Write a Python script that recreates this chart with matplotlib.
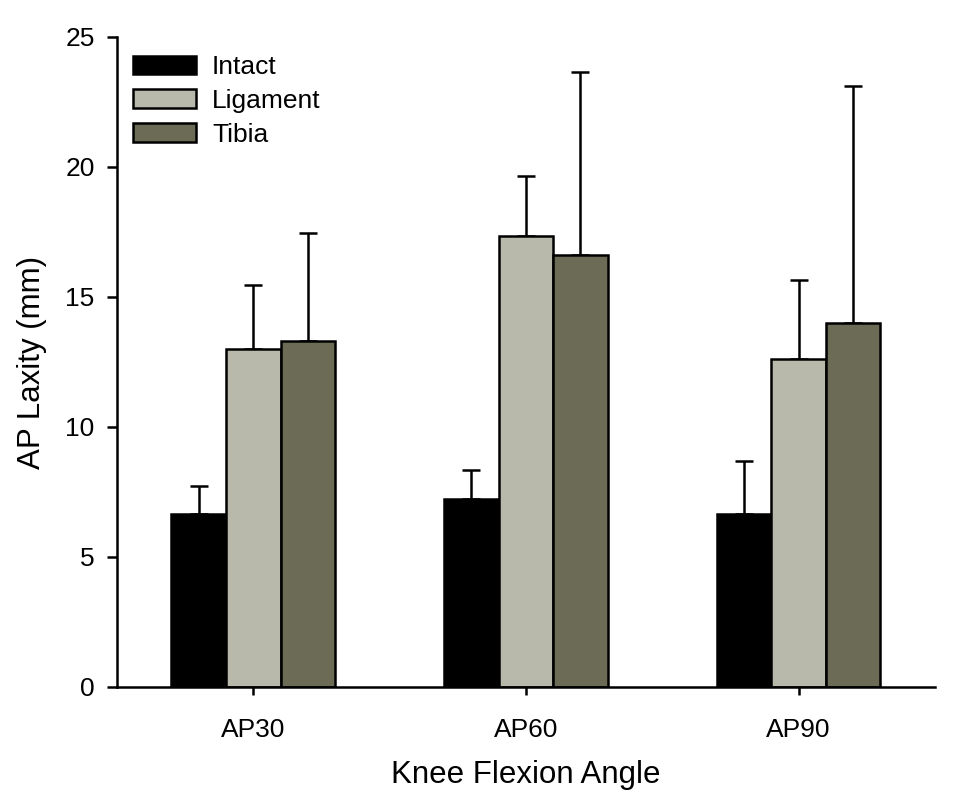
import numpy as np
import matplotlib
matplotlib.use("Agg")
import matplotlib.pyplot as plt

plt.rcParams['font.family'] = ['Liberation Sans', 'DejaVu Sans']

angles = ['AP30', 'AP60', 'AP90']
series = ['Intact', 'Ligament', 'Tibia']
means = {
    'Intact':   [6.65, 7.22, 6.65],
    'Ligament': [13.0, 17.33, 12.6],
    'Tibia':    [13.3, 16.62, 14.0],
}
errs = {
    'Intact':   [1.08, 1.13, 2.05],
    'Ligament': [2.45, 2.34, 3.07],
    'Tibia':    [4.15, 7.03, 9.12],
}
colors = {'Intact': '#000000', 'Ligament': '#b9b9ab', 'Tibia': '#6c6c56'}

fig = plt.figure(figsize=(9.54, 8.02), dpi=100)
ax = fig.add_axes([0.1226, 0.1434, 0.8574, 0.8105])

x = np.arange(len(angles))
w = 0.2
for i, s in enumerate(series):
    pos = x + (i - 1) * w
    ax.bar(pos, means[s], width=w, color=colors[s], edgecolor='black',
           linewidth=1.8, label=s, zorder=2)
    ax.errorbar(pos, means[s], yerr=[np.zeros(len(angles)), errs[s]],
                fmt='none', ecolor='black', elinewidth=1.8, capsize=6.5,
                capthick=1.8, zorder=1)

ax.set_xlim(-0.5, 2.5)
ax.set_ylim(0, 25)
ax.set_yticks([0, 5, 10, 15, 20, 25])
ax.set_xticks(x)
ax.set_xticklabels(angles)
ax.spines['top'].set_visible(False)
ax.spines['right'].set_visible(False)
ax.spines['left'].set_linewidth(1.8)
ax.spines['bottom'].set_linewidth(1.8)
ax.tick_params(axis='y', direction='out', length=7, width=1.8, labelsize=19, pad=9)
ax.tick_params(axis='x', direction='out', length=6, width=1.8, labelsize=19, pad=16)

ax.set_ylabel('AP Laxity (mm)', fontsize=22.5)
ax.yaxis.set_label_coords(-0.085, 0.5)
ax.set_xlabel('Knee Flexion Angle', fontsize=22.5)
ax.xaxis.set_label_coords(0.5, -0.112)

ax.legend(loc='upper left', bbox_to_anchor=(0.0196, 0.972), frameon=False,
          fontsize=19, handlelength=2.39, handleheight=0.72, labelspacing=0.37,
          handletextpad=0.6, borderpad=0, borderaxespad=0)

fig.savefig('out.png', dpi=100)
